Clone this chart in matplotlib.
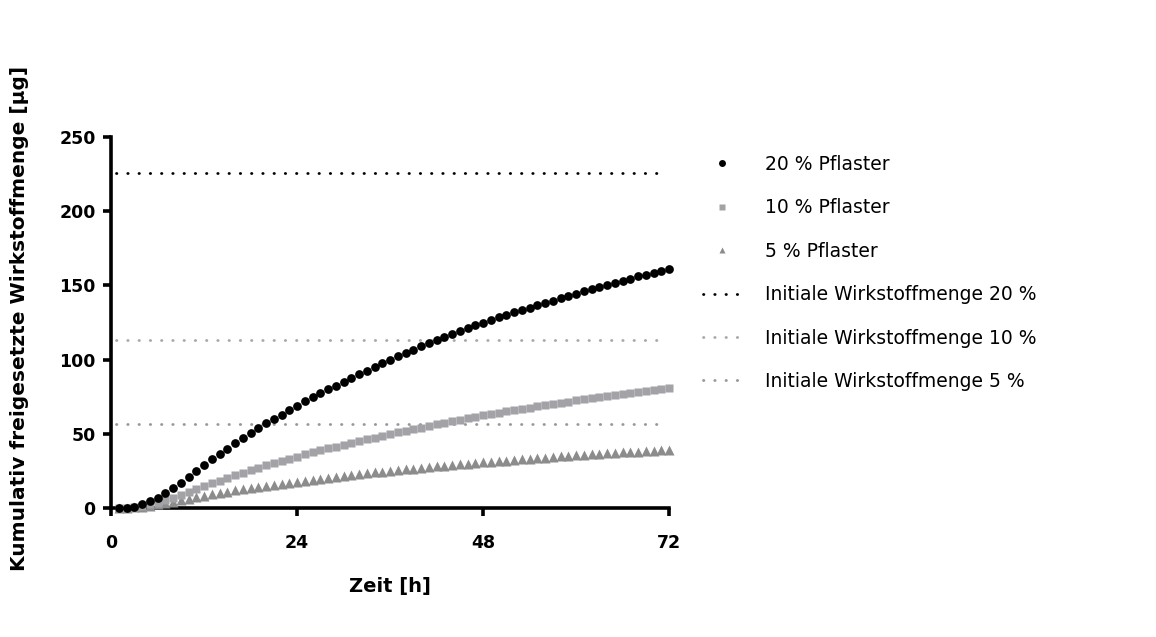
import numpy as np
import matplotlib
matplotlib.use("Agg")
import matplotlib.pyplot as plt
from matplotlib.lines import Line2D

plt.rcParams['font.family'] = ['DejaVu Sans']

# -----------------------
# DATA
hours = np.arange(1, 73)

release_20 = [0, 0.3, 1, 2.5, 4.5, 7, 10, 13.5, 17, 21, 25, 29,
              33, 36.5, 40, 43.5, 47, 50.5, 54, 57, 60, 63, 66, 69,
              72, 75, 77.5, 80, 82.5, 85, 87.5, 90, 92.5, 95, 97.5, 100,
              102.3, 104.6, 106.8, 109, 111.2, 113.3, 115.3, 117.3, 119.2, 121.1, 123, 124.8,
              126.6, 128.4, 130.1, 131.8, 133.5, 135.1, 136.7, 138.3, 139.8, 141.3, 142.8, 144.5,
              146, 147.5, 149, 150.4, 151.8, 153.2, 154.6, 156, 157.3, 158.6, 159.9, 161.2]

release_10 = [0, 0.2, 0.6, 1.4, 2.4, 3.7, 5.2, 6.9, 8.7, 10.6, 12.6, 14.6,
              16.6, 18.4, 20.2, 22, 23.7, 25.4, 27.1, 28.7, 30.2, 31.7, 33.2, 34.6,
              36.1, 37.5, 38.8, 40.1, 41.4, 42.6, 43.8, 45, 46.2, 47.4, 48.6, 49.8,
              50.9, 52, 53.1, 54.2, 55.3, 56.4, 57.4, 58.4, 59.4, 60.4, 61.4, 62.4,
              63.3, 64.2, 65.1, 66, 66.9, 67.7, 68.5, 69.3, 70.1, 70.9, 71.7, 72.5,
              73.2, 73.9, 74.6, 75.3, 76, 76.7, 77.4, 78.1, 78.8, 79.5, 80.2, 80.8]

release_5 = [0, 0.1, 0.4, 0.9, 1.6, 2.4, 3.3, 4.3, 5.3, 6.3, 7.3, 8.3,
             9.2, 10.1, 11, 11.8, 12.6, 13.4, 14.2, 15, 15.7, 16.4, 17.1, 17.8,
             18.5, 19.2, 19.8, 20.4, 21, 21.6, 22.2, 22.8, 23.4, 24, 24.5, 25,
             25.5, 26, 26.5, 27, 27.5, 28, 28.5, 29, 29.4, 29.8, 30.2, 30.8,
             31.2, 31.6, 32, 32.4, 32.8, 33.2, 33.6, 34, 34.4, 34.8, 35.2, 35.6,
             35.9, 36.2, 36.5, 36.8, 37.1, 37.4, 37.7, 38, 38.3, 38.6, 38.9, 39.2]

# initial drug amount per patch
initial_amounts = [226, 113, 56.5]

series_labels = ["20 % Pflaster", "10 % Pflaster", "5 % Pflaster"]
line_labels = ["Initiale Wirkstoffmenge 20 %", "Initiale Wirkstoffmenge 10 %",
               "Initiale Wirkstoffmenge 5 %"]

x_ticks = [0, 24, 48, 72]
y_ticks = [0, 50, 100, 150, 200, 250]

# -----------------------
# STYLE
c_black = "#000000"
c_square = "#A2A2A7"
c_tri = "#8C8C8C"
line_colors = ["#000000", "#A8A8A8", "#979797"]
dots = (0, (0.15, 3.9))

fig = plt.figure(figsize=(11.56, 6.37), dpi=100)
ax = fig.add_axes([111 / 1156, 1 - 508 / 637, 558 / 1156, 371 / 637])

# dotted reference lines
for val, col in zip(initial_amounts, line_colors):
    ax.plot([0.6, 71.6], [val, val], color=col, lw=2.0, linestyle=dots,
            dash_capstyle="round", zorder=1)

ax.plot(hours, release_5, linestyle="none", marker="^", ms=7.0, color=c_tri,
        mec="none", clip_on=False, zorder=3)
ax.plot(hours, release_10, linestyle="none", marker="s", ms=6.0, color=c_square,
        mec="none", clip_on=False, zorder=4)
ax.plot(hours, release_20, linestyle="none", marker="o", ms=6.3, color=c_black,
        mec="none", clip_on=False, zorder=5)

ax.set_xlim(0, 72)
ax.set_ylim(0, 250)
ax.set_xticks(x_ticks)
ax.set_yticks(y_ticks)

for side in ["top", "right"]:
    ax.spines[side].set_visible(False)
for side in ["left", "bottom"]:
    ax.spines[side].set_linewidth(2.6)
ax.tick_params(direction="out", length=6, width=2.6, labelsize=12.5)
ax.tick_params(axis="x", pad=13)
ax.tick_params(axis="y", pad=5)
for lab in ax.get_xticklabels() + ax.get_yticklabels():
    lab.set_fontweight("bold")

ax.set_xlabel("Zeit [h]", fontsize=14, fontweight="bold", labelpad=18)
fig.text(20 / 1156, 1 - 318 / 637, "Kumulativ freigesetzte Wirkstoffmenge [µg]",
         rotation=90, fontsize=14.5, fontweight="bold", ha="center", va="center")

# -----------------------
# LEGEND
handles = [
    Line2D([], [], linestyle="none", marker="o", ms=5, color=c_black, mec="none"),
    Line2D([], [], linestyle="none", marker="s", ms=4.6, color=c_square, mec="none"),
    Line2D([], [], linestyle="none", marker="^", ms=5, color=c_tri, mec="none"),
]
for col in line_colors:
    handles.append(Line2D([], [], color=col, lw=2.0, linestyle=dots,
                          dash_capstyle="round"))

fig.legend(handles, series_labels + line_labels, loc="upper left",
           bbox_to_anchor=(703 / 1156, 1 - 155 / 637), frameon=False,
           fontsize=13.5, handlelength=2.0, handletextpad=1.3,
           labelspacing=1.3, borderpad=0, borderaxespad=0)

fig.savefig("out.png", dpi=100)
